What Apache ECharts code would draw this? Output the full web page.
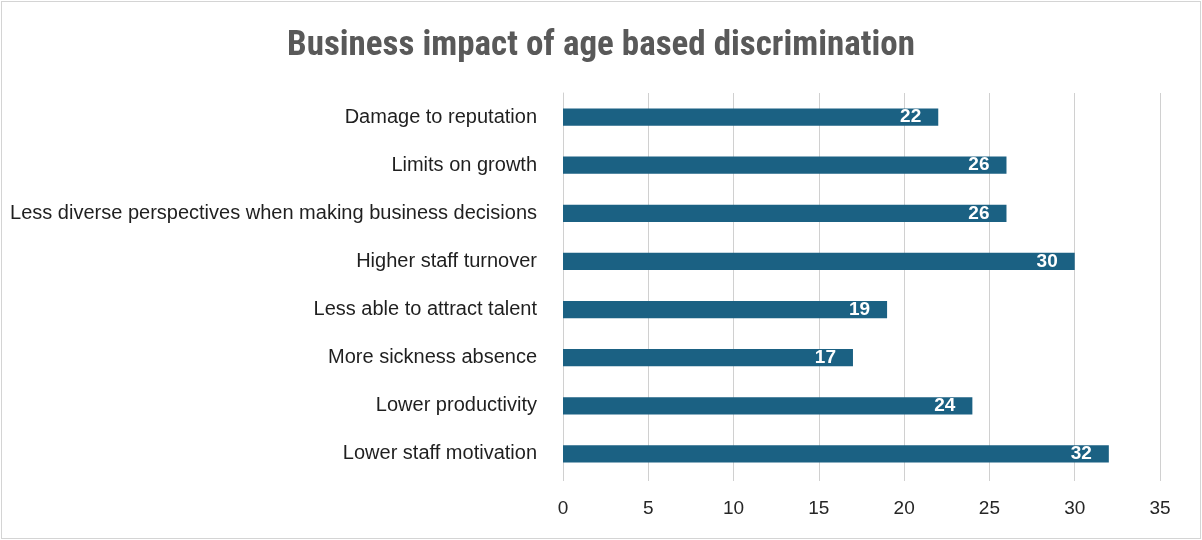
<!DOCTYPE html>
<html><head><meta charset="utf-8">
<script src="https://cdn.jsdelivr.net/npm/echarts@6/dist/echarts.min.js"></script>
<style>
html,body{margin:0;padding:0;background:#fff;}
#frame{position:absolute;left:1px;top:1px;width:1198px;height:536px;border:1px solid #d4d4d4;}
#c{width:1202px;height:540px;}
</style></head>
<body><div id="frame"></div><div id="c" style="position:absolute;left:0;top:0;"></div>
<script>
const categories = ["Lower staff motivation","Lower productivity","More sickness absence","Less able to attract talent","Higher staff turnover","Less diverse perspectives when making business decisions","Limits on growth","Damage to reputation"];
const values = [32,24,17,19,30,26,26,22];
const chart = echarts.init(document.getElementById('c'));
chart.setOption({
  animation:false,
  title:{text:'Business impact of age based discrimination',left:'center',top:24,
    textStyle:{fontFamily:'Liberation Sans Narrow, Roboto Condensed, Liberation Sans',fontWeight:'bold',fontSize:35,color:'#595959'}},
  grid:{left:563,right:42,top:93,bottom:62},
  xAxis:{type:'value',min:0,max:35,interval:5,
    axisLine:{show:false},axisTick:{show:true,length:3,lineStyle:{color:'#d0d0d0'}},
    splitLine:{show:true,lineStyle:{color:'#d0d0d0',width:1}},
    axisLabel:{fontFamily:'Liberation Sans',fontSize:19,color:'#262626',margin:21}},
  yAxis:{type:'category',data:categories,
    axisLine:{show:true,lineStyle:{color:'#d0d0d0'}},axisTick:{show:false},
    axisLabel:{fontFamily:'Liberation Sans',fontSize:20,color:'#1f1f1f',margin:26}},
  series:[{type:'bar',data:values,barWidth:'36%',itemStyle:{color:'#1b6183'},
    label:{show:true,position:'insideRight',offset:[-12,0],color:'#ffffff',fontWeight:'bold',
      fontFamily:'Liberation Sans',fontSize:19}}]
});
</script></body></html>
